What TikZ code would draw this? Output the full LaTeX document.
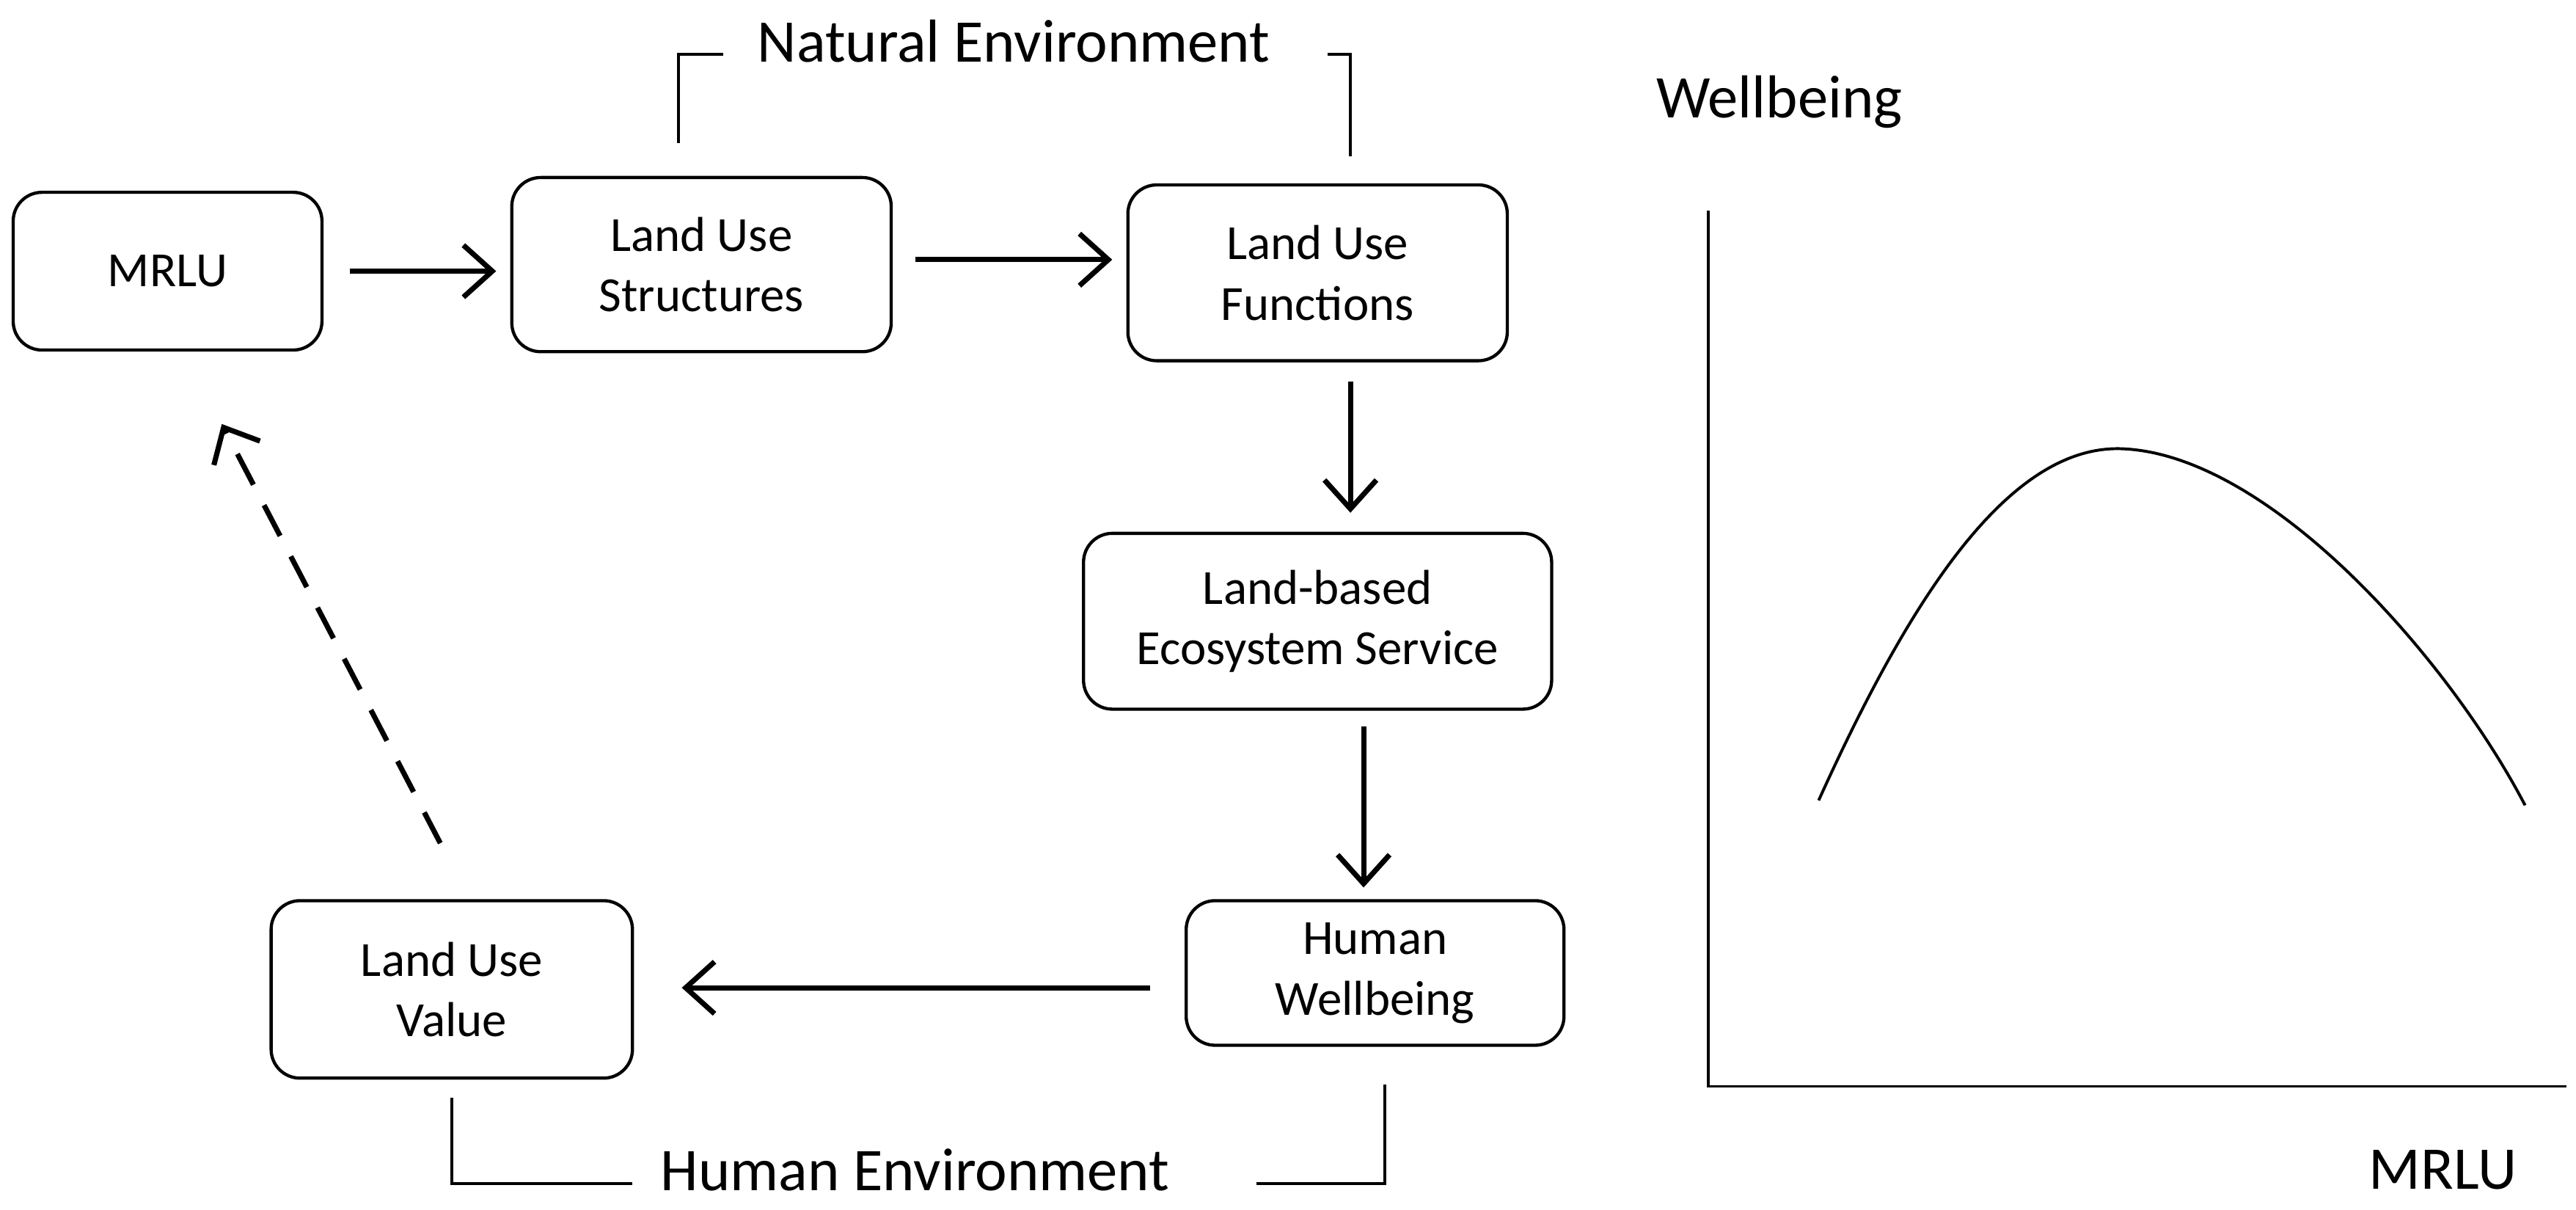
\documentclass[tikz,border=0pt]{standalone}
\usepackage{fontspec}
\setmainfont{Carlito}
\usetikzlibrary{arrows.meta}
\begin{document}
\begin{tikzpicture}[x=0.02cm,y=-0.02cm,
 box/.style={draw,line width=1.1pt,rounded corners=10pt,align=center,font=\fontsize{17}{21}\selectfont,inner sep=0pt},
 arr/.style={line width=1.8pt,-{Straight Barb[length=10pt,width=18pt,line width=1.8pt]}},
 lbl/.style={font=\fontsize{21}{25}\selectfont},
 ln/.style={line width=1pt}]
\useasboundingbox (0,0) rectangle (1568,736);
\node[box,minimum width=188\pgflinewidth*0+3.76cm,minimum height=1.92cm] (mrlu) at (102,165) {MRLU};
\node[box,minimum width=4.62cm,minimum height=2.12cm] (lus) at (427,161) {Land Use\\Structures};
\node[box,minimum width=4.62cm,minimum height=2.14cm] (luf) at (802,166) {Land Use\\Functions};
\node[box,minimum width=5.7cm,minimum height=2.14cm] (les) at (802,378) {Land-based\\Ecosystem Service};
\node[box,minimum width=4.6cm,minimum height=1.76cm] (hw) at (837,592) {Human\\Wellbeing};
\node[box,minimum width=4.4cm,minimum height=2.16cm] (luv) at (275,602) {Land Use\\Value};
\coordinate (d1) at (268,513); \coordinate (d2) at (135,258);
\draw[arr] (213,165) -- (302,165);
\draw[arr] (557,158) -- (677,158);
\draw[arr] (822,232) -- (822,312);
\draw[arr] (830,442) -- (830,540);
\draw[arr] (700,601) -- (415,601);
\draw[arr,dash pattern=on 12pt off 8pt] (d1) -- (d2);
\node[lbl] (ne) at (617,25) {Natural Environment};
\draw[ln] (413,87) -- (413,33) -- (440,33);
\draw[ln] (808,33) -- (822,33) -- (822,95);
\node[lbl] (he) at (557,712) {Human Environment};
\draw[ln] (275,668) -- (275,720) -- (385,720);
\draw[ln] (765,720) -- (843,720) -- (843,660);
\draw[ln] (1040,128) -- (1040,661) -- (1562,661);
\node[lbl] (wb) at (1083,62) {Wellbeing};
\node[lbl] (mx) at (1487,712) {MRLU};
\draw[ln] (1107,487) .. controls (1160,370) and (1220,272) .. (1290,273) .. controls (1380,275) and (1490,400) .. (1537,490);
\end{tikzpicture}
\end{document}
